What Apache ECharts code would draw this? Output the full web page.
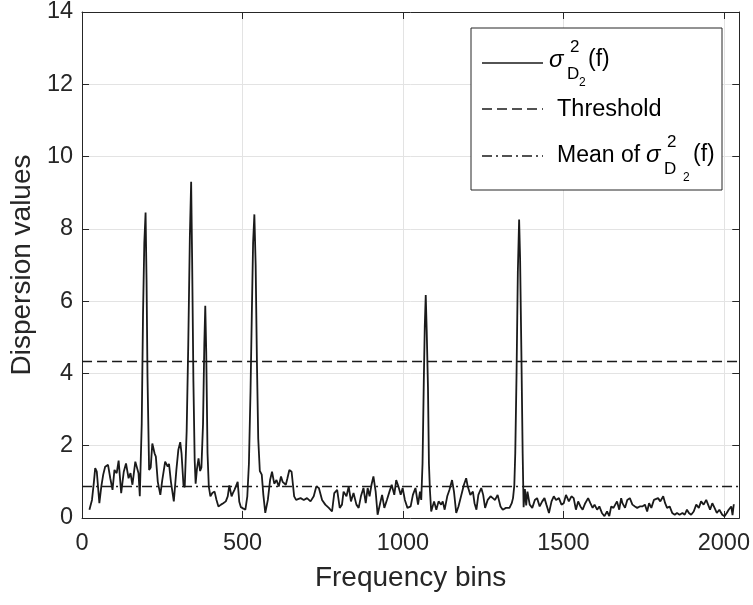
<!DOCTYPE html>
<html>
<head>
<meta charset="utf-8">
<script src="https://cdn.jsdelivr.net/npm/echarts@6/dist/echarts.min.js"></script>
<style>
  html, body { margin: 0; padding: 0; background: #fff; }
  #main { width: 753px; height: 605px; }
</style>
</head>
<body>
<div id="main"></div>
<script>
// frequency bin of each sample
var bins = [
  23, 31, 37, 41, 46, 54, 60, 66, 72, 81, 88, 95, 101, 108, 114, 122, 130, 137, 145, 151,
  157, 166, 172, 176, 180, 183, 186, 190, 194, 198, 201, 204, 209, 214, 219, 226, 230, 236, 244, 250,
  259, 267, 271, 277, 286, 294, 300, 306, 310, 316, 320, 326, 331, 336, 340, 343, 347, 351, 354, 358,
  363, 368, 372, 377, 381, 384, 387, 391, 395, 400, 406, 413, 419, 425, 433, 440, 448, 454, 459, 466,
  470, 475, 485, 490, 495, 501, 509, 515, 520, 525, 529, 533, 537, 541, 545, 549, 554, 560, 565, 571,
  579, 586, 592, 599, 606, 613, 620, 625, 635, 640, 646, 653, 661, 667, 672, 681, 691, 701, 712, 722,
  730, 738, 748, 758, 769, 779, 786, 795, 803, 810, 815, 824, 831, 838, 846, 855, 862, 869, 877, 884,
  890, 896, 902, 908, 915, 921, 929, 935, 942, 950, 958, 965, 973, 979, 986, 993, 999, 1006, 1014, 1024,
  1031, 1039, 1047, 1053, 1057, 1061, 1065, 1068, 1071, 1074, 1078, 1081, 1084, 1088, 1097, 1104, 1111, 1119, 1124, 1130,
  1138, 1145, 1153, 1159, 1166, 1173, 1181, 1190, 1197, 1202, 1210, 1218, 1223, 1229, 1235, 1244, 1250, 1256, 1264, 1273,
  1280, 1287, 1295, 1304, 1311, 1321, 1332, 1339, 1343, 1347, 1350, 1354, 1358, 1362, 1365, 1369, 1373, 1376, 1380, 1384,
  1388, 1395, 1403, 1411, 1418, 1426, 1434, 1441, 1447, 1455, 1463, 1470, 1477, 1486, 1494, 1501, 1508, 1517, 1525, 1532,
  1539, 1546, 1553, 1560, 1568, 1577, 1584, 1591, 1597, 1605, 1612, 1620, 1628, 1636, 1643, 1649, 1656, 1667, 1674, 1680,
  1684, 1692, 1699, 1707, 1715, 1723, 1730, 1738, 1746, 1754, 1761, 1767, 1774, 1782, 1788, 1795, 1802, 1811, 1817, 1823,
  1831, 1839, 1847, 1854, 1862, 1871, 1878, 1885, 1891, 1898, 1906, 1914, 1922, 1929, 1937, 1945, 1951, 1957, 1964, 1971,
  1978, 1986, 1995, 2002, 2009, 2015, 2023, 2027, 2031
];
// dispersion sigma^2_D2(f) at each bin
var sigmaValues = [
  0.23, 0.5, 1.0, 1.38, 1.28, 0.41, 0.87, 1.2, 1.42, 1.47, 1.1, 0.78, 1.33, 1.24, 1.59, 0.69, 1.28, 1.51, 1.1, 1.24,
  0.92, 1.56, 1.6, 1.24, 0.6, 0.65, 2.6, 5.6, 7.6, 8.45, 6.6, 3.9, 1.33, 1.4, 2.06, 1.79, 1.7, 1.0, 0.64, 1.05,
  1.56, 1.42, 1.5, 1.0, 0.46, 1.33, 1.88, 2.1, 1.79, 0.92, 0.85, 2.4, 4.8, 7.8, 9.3, 7.2, 3.8, 1.6, 0.95, 1.35,
  1.65, 1.3, 1.4, 2.6, 4.8, 5.87, 4.6, 1.8, 0.87, 0.6, 0.69, 0.73, 0.5, 0.32, 0.37, 0.41, 0.46, 0.6, 0.9, 0.6,
  0.69, 0.78, 1.0, 0.45, 0.3, 0.27, 0.23, 0.6, 1.5, 3.5, 5.6, 7.6, 8.4, 7.0, 4.3, 2.2, 1.3, 1.2, 0.64, 0.14,
  0.5, 1.05, 1.28, 0.95, 1.05, 0.87, 1.15, 1.0, 0.92, 1.1, 1.33, 1.28, 0.6, 0.5, 0.46, 0.55, 0.5, 0.55, 0.46, 0.6,
  0.87, 0.83, 0.5, 0.37, 0.28, 0.18, 0.69, 0.78, 0.28, 0.37, 0.73, 0.6, 0.87, 0.46, 0.69, 0.37, 0.28, 0.6, 0.83, 0.41,
  0.83, 0.6, 0.92, 1.15, 0.73, 0.09, 0.41, 0.64, 0.28, 0.5, 0.73, 0.92, 0.64, 1.05, 0.87, 0.64, 0.83, 0.5, 0.28, 0.32,
  0.64, 0.83, 0.37, 0.73, 0.5, 1.5, 3.8, 5.3, 6.17, 5.2, 3.6, 1.5, 0.78, 0.18, 0.46, 0.23, 0.46, 0.37, 0.46, 0.23,
  0.6, 0.78, 1.05, 0.73, 0.14, 0.32, 0.6, 0.92, 1.1, 0.87, 0.64, 0.73, 0.41, 0.23, 0.64, 0.83, 0.64, 0.28, 0.5, 0.6,
  0.55, 0.5, 0.64, 0.32, 0.23, 0.28, 0.28, 0.41, 0.55, 0.9, 1.8, 4.0, 6.8, 8.26, 7.2, 4.6, 1.8, 0.3, 0.8, 0.35,
  0.73, 0.37, 0.28, 0.5, 0.55, 0.32, 0.46, 0.55, 0.37, 0.14, 0.46, 0.6, 0.5, 0.55, 0.37, 0.41, 0.64, 0.46, 0.6, 0.55,
  0.23, 0.46, 0.32, 0.23, 0.41, 0.55, 0.41, 0.28, 0.37, 0.23, 0.32, 0.14, 0.05, 0.18, 0.05, 0.32, 0.28, 0.46, 0.23, 0.55,
  0.41, 0.28, 0.5, 0.55, 0.37, 0.32, 0.28, 0.32, 0.32, 0.37, 0.18, 0.41, 0.28, 0.5, 0.46, 0.55, 0.46, 0.6, 0.41, 0.28,
  0.32, 0.14, 0.09, 0.14, 0.09, 0.14, 0.09, 0.23, 0.14, 0.09, 0.18, 0.37, 0.28, 0.46, 0.37, 0.5, 0.55, 0.23, 0.41, 0.28,
  0.14, 0.23, 0.09, 0.05, 0.14, 0.23, 0.32, 0.08, 0.38
];
var thresholdValue = 4.33;
var meanValue = 0.87;
var xRange = [0, 2048];
var yRange = [0, 14];

var axisColor = '#262626';
var lineColor = '#1a1a1a';
var gridColor = '#e3e3e3';
var font = 'Liberation Sans, Arial, Helvetica, sans-serif';
var dashStyle = [10, 5];
var dashDotStyle = [10, 4, 2, 4];

var sigmaData = bins.map(function (b, i) { return [b, sigmaValues[i]]; });

var chart = echarts.init(document.getElementById('main'));

// sigma^2 with stacked subscript D_2, then (f)
function sigmaLabel(x, y, subGap, fGap) {
  return [
    { type: 'text', x: x, y: y, style: { text: 'σ', font: 'italic 24px ' + font, fill: '#000' } },
    { type: 'text', x: x + 21, y: y - 9, style: { text: '2', font: '17px ' + font, fill: '#000' } },
    { type: 'text', x: x + 18, y: y + 18, style: { text: 'D', font: '17px ' + font, fill: '#000' } },
    { type: 'text', x: x + subGap, y: y + 29, style: { text: '2', font: '12px ' + font, fill: '#000' } },
    { type: 'text', x: x + fGap, y: y, style: { text: '(f)', font: '23px ' + font, fill: '#000' } }
  ];
}

var legendItems = [
  { type: 'rect', shape: { x: 471, y: 28, width: 251, height: 162 },
    style: { fill: '#fff', stroke: axisColor, lineWidth: 1 }, z: 10 },
  { type: 'line', shape: { x1: 482, y1: 63, x2: 543, y2: 63 },
    style: { stroke: lineColor, lineWidth: 1.6 } },
  { type: 'line', shape: { x1: 482, y1: 109, x2: 543, y2: 109 },
    style: { stroke: lineColor, lineWidth: 1.6, lineDash: dashStyle } },
  { type: 'line', shape: { x1: 482, y1: 156, x2: 543, y2: 156 },
    style: { stroke: lineColor, lineWidth: 1.6, lineDash: dashDotStyle } },
  { type: 'text', x: 557, y: 98, style: { text: 'Threshold', font: '23.5px ' + font, fill: '#000' } },
  { type: 'text', x: 557, y: 144, style: { text: 'Mean of', font: '23px ' + font, fill: '#000' } }
].concat(sigmaLabel(549, 48, 30, 39)).concat(sigmaLabel(646, 143, 37, 47));
legendItems.forEach(function (g) { if (g.z === undefined) g.z = 11; });

var plainNumber = function (v) { return String(v); };

var option = {
  animation: false,
  backgroundColor: '#fff',
  grid: { left: 82, right: 12, top: 9, bottom: 87, containLabel: false },
  xAxis: [{
    type: 'value', min: xRange[0], max: xRange[1], interval: 500,
    name: 'Frequency bins', nameLocation: 'middle', nameGap: 46,
    nameTextStyle: { fontFamily: font, fontSize: 28, color: axisColor },
    axisLine: { show: true, onZero: false, lineStyle: { color: axisColor, width: 1 } },
    axisTick: { show: true, inside: true, length: 7, lineStyle: { color: axisColor } },
    axisLabel: { fontFamily: font, fontSize: 23.5, color: axisColor, margin: 14, showMaxLabel: false, formatter: plainNumber },
    splitLine: { show: true, lineStyle: { color: gridColor, width: 1 } }
  }, {
    type: 'value', position: 'top', min: xRange[0], max: xRange[1], interval: 500,
    axisLine: { show: true, onZero: false, lineStyle: { color: axisColor, width: 1 } },
    axisTick: { show: true, inside: true, length: 7, lineStyle: { color: axisColor } },
    axisLabel: { show: false }, splitLine: { show: false }
  }],
  yAxis: [{
    type: 'value', min: yRange[0], max: yRange[1], interval: 2,
    name: 'Dispersion values', nameLocation: 'middle', nameGap: 35,
    nameTextStyle: { fontFamily: font, fontSize: 28, color: axisColor },
    axisLine: { show: true, onZero: false, lineStyle: { color: axisColor, width: 1 } },
    axisTick: { show: true, inside: true, length: 7, lineStyle: { color: axisColor } },
    axisLabel: { fontFamily: font, fontSize: 23.5, color: axisColor, margin: 9, formatter: plainNumber },
    splitLine: { show: true, lineStyle: { color: gridColor, width: 1 } }
  }, {
    type: 'value', position: 'right', min: yRange[0], max: yRange[1], interval: 2,
    axisLine: { show: true, onZero: false, lineStyle: { color: axisColor, width: 1 } },
    axisTick: { show: true, inside: true, length: 7, lineStyle: { color: axisColor } },
    axisLabel: { show: false }, splitLine: { show: false }
  }],
  series: [{
    name: 'sigma', type: 'line', data: sigmaData, showSymbol: false, symbol: 'none',
    lineStyle: { color: lineColor, width: 1.8 }, z: 3
  }, {
    name: 'Threshold', type: 'line', showSymbol: false, symbol: 'none',
    data: [[xRange[0], thresholdValue], [xRange[1], thresholdValue]],
    lineStyle: { color: lineColor, width: 1.6, type: dashStyle }, z: 2
  }, {
    name: 'Mean', type: 'line', showSymbol: false, symbol: 'none',
    data: [[xRange[0], meanValue], [xRange[1], meanValue]],
    lineStyle: { color: lineColor, width: 1.6, type: dashDotStyle }, z: 2
  }],
  graphic: legendItems
};

chart.setOption(option);
</script>
</body>
</html>
